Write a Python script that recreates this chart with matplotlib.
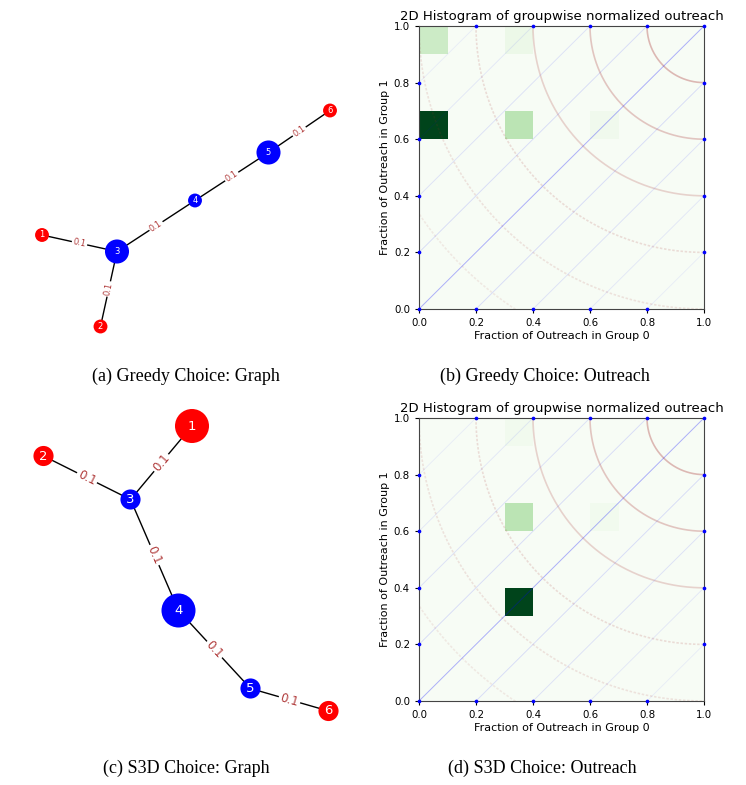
import numpy as np
import matplotlib
matplotlib.use("Agg")
import matplotlib.pyplot as plt

# ---- graph data (layout coords, y up) ----
node_ids = [1, 2, 3, 4, 5, 6]
node_colors = ['red', 'red', 'blue', 'blue', 'blue', 'red']
edges = [(1, 3), (2, 3), (3, 4), (4, 5), (5, 6)]
edge_weights = [0.1, 0.1, 0.1, 0.1, 0.1]

greedy_x = [-0.96, -0.57, -0.46, 0.06, 0.55, 0.96]
greedy_y = [-0.30, -0.91, -0.41, -0.07, 0.25, 0.53]
greedy_size = [100, 100, 300, 100, 300, 100]

s3d_x = [0.04, -0.95, -0.37, -0.05, 0.43, 0.95]
s3d_y = [0.96, 0.76, 0.47, -0.27, -0.79, -0.94]
s3d_size = [600, 210, 210, 600, 210, 210]

# ---- histogram data (bin index in group 0, group 1, normalised count) ----
bin_edges = np.linspace(0, 1, 11)
greedy_bx = [0, 0, 3, 3, 6]
greedy_by = [6, 9, 6, 9, 6]
greedy_val = [1.0, 0.23, 0.29, 0.08, 0.05]

s3d_bx = [3, 3, 6, 3]
s3d_by = [3, 6, 6, 9]
s3d_val = [1.0, 0.29, 0.04, 0.04]

ticks = [0.0, 0.2, 0.4, 0.6, 0.8, 1.0]
arc_radii = [0.2, 0.4, 0.6, 0.8, 1.0, 1.2]
arc_alpha = [0.32, 0.26, 0.2, 0.15, 0.12, 0.09]
diag_offsets = [-0.8, -0.6, -0.4, -0.2, 0.0, 0.2, 0.4, 0.6, 0.8]

W, H = 746, 785
fig = plt.figure(figsize=(W / 100, H / 100), dpi=100)


def px_axes(x0, y0, x1, y1):
    return fig.add_axes([x0 / W, 1 - y1 / H, (x1 - x0) / W, (y1 - y0) / H])


def draw_graph(ax, xs, ys, sizes, label_fs, edge_fs, ylim):
    ax.set_xlim(-1.24, 1.24)
    ax.set_ylim(*ylim)
    ax.axis('off')
    pos = {n: (x, y) for n, x, y in zip(node_ids, xs, ys)}
    for (a, b), w in zip(edges, edge_weights):
        (xa, ya), (xb, yb) = pos[a], pos[b]
        ax.plot([xa, xb], [ya, yb], color='black', lw=1.0, zorder=1)
        # rotate label along the edge in display space
        pa = ax.transData.transform((xa, ya))
        pb = ax.transData.transform((xb, yb))
        ang = np.degrees(np.arctan2(pb[1] - pa[1], pb[0] - pa[0]))
        if ang > 90:
            ang -= 180
        if ang < -90:
            ang += 180
        ax.text((xa + xb) / 2, (ya + yb) / 2, f"{w}", color='#b03a3a',
                fontsize=edge_fs, rotation=ang, rotation_mode='anchor',
                ha='center', va='center', zorder=2,
                bbox=dict(boxstyle='round,pad=0.15', fc='white', ec='none'))
    ax.scatter(xs, ys, s=sizes, c=node_colors, zorder=3, linewidths=0)
    for n, x, y in zip(node_ids, xs, ys):
        ax.text(x, y, str(n), color='white', fontsize=label_fs,
                ha='center', va='center', zorder=4)


def draw_hist(ax, bx, by, vals):
    Hm = np.zeros((10, 10))
    for i, j, v in zip(bx, by, vals):
        Hm[j, i] = v
    ax.pcolormesh(bin_edges, bin_edges, Hm, cmap='Greens', vmin=0, vmax=1, zorder=0)
    t = np.linspace(np.pi, 1.5 * np.pi, 300)
    for r, a in zip(arc_radii, arc_alpha):
        ls = '-' if r < 0.7 else (0, (1.5, 1))
        ax.plot(1 + r * np.cos(t), 1 + r * np.sin(t), color='brown',
                alpha=a, lw=1.2, ls=ls, zorder=2)
    dots_x, dots_y = [], []
    for c in diag_offsets:
        x0, y0 = (0, c) if c >= 0 else (-c, 0)
        x1, y1 = (1 - c, 1) if c >= 0 else (1, 1 + c)
        a = 0.3 if c == 0 else 0.14 - 0.1 * abs(c)
        ax.plot([x0, x1], [y0, y1], color='blue', lw=0.7, alpha=a, zorder=2)
        dots_x += [x0, x1]
        dots_y += [y0, y1]
    ax.scatter(dots_x, dots_y, s=7, color='blue', zorder=5, clip_on=False, linewidths=0)
    ax.set_xlim(0, 1)
    ax.set_ylim(0, 1)
    ax.set_xticks(ticks)
    ax.set_yticks(ticks)
    ax.tick_params(labelsize=7.4, length=3, width=0.8)
    ax.set_title('2D Histogram of groupwise normalized outreach', fontsize=9.5, pad=4)
    ax.set_xlabel('Fraction of Outreach in Group 0', fontsize=8, labelpad=2)
    ax.set_ylabel('Fraction of Outreach in Group 1', fontsize=8, labelpad=3)
    for s in ax.spines.values():
        s.set_color('#444444')


ax_a = px_axes(0, 0, 372, 350)
draw_graph(ax_a, greedy_x, greedy_y, greedy_size, 6, 6, (-1.0667, 1.2667))

ax_c = px_axes(0, 395, 372, 745)
draw_graph(ax_c, s3d_x, s3d_y, s3d_size, 9.5, 8.5, (-1.1667, 1.1667))

ax_b = px_axes(419, 26, 704, 309)
draw_hist(ax_b, greedy_bx, greedy_by, greedy_val)

ax_d = px_axes(419, 418, 704, 701)
draw_hist(ax_d, s3d_bx, s3d_by, s3d_val)

cap = dict(fontsize=13, family='Liberation Serif', ha='center', va='center')
fig.text(186 / W, 1 - 376 / H, '(a) Greedy Choice: Graph', **cap)
fig.text(545 / W, 1 - 376 / H, '(b) Greedy Choice: Outreach', **cap)
fig.text(186 / W, 1 - 768 / H, '(c) S3D Choice: Graph', **cap)
fig.text(542 / W, 1 - 768 / H, '(d) S3D Choice: Outreach', **cap)

fig.savefig('out.png', dpi=100)
